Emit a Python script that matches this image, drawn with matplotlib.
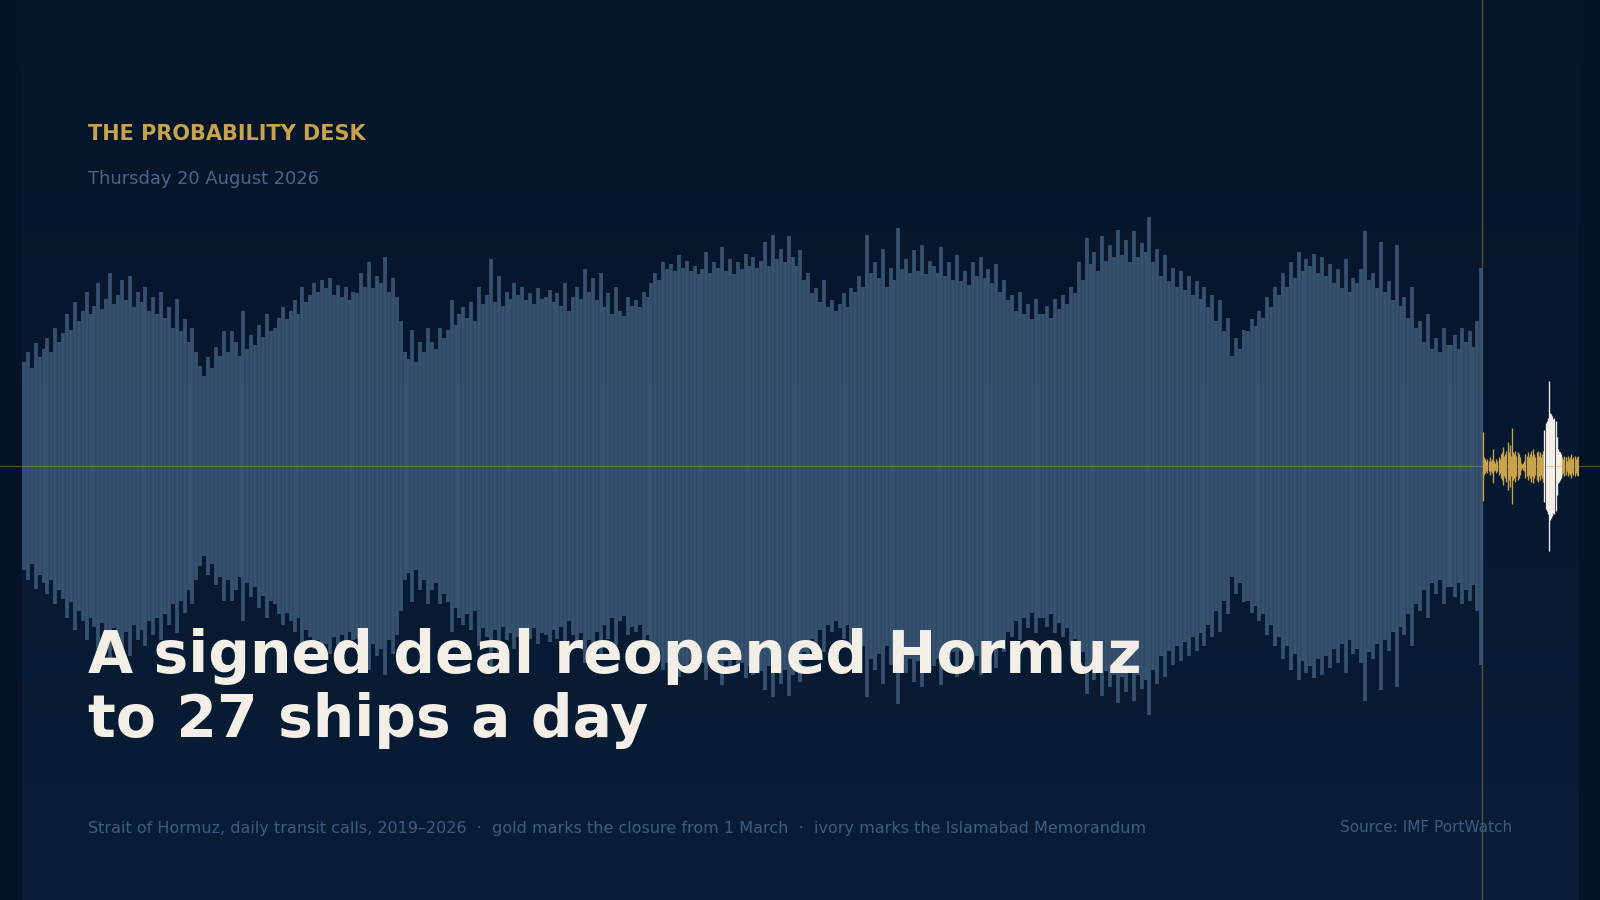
import numpy as np
import matplotlib
matplotlib.use('Agg')
import matplotlib.pyplot as plt
from matplotlib.colors import LinearSegmentedColormap

# weekly samples of daily transit calls (ships)
calls_2019 = [60, 66, 57, 71, 63, 68, 74, 66, 80, 72, 77, 88, 79, 95, 84, 90, 101, 88, 93, 106,
              91, 97, 112, 94, 99, 108, 96, 110, 92, 101, 95, 104, 90, 98, 88, 101, 86, 92, 80, 97,
              78, 85, 72, 80, 66, 58, 52, 63, 57, 69, 64, 78]
calls_2020 = [66, 78, 72, 64, 90, 68, 76, 70, 82, 75, 88, 78, 80, 86, 92, 85, 90, 96, 88, 104,
              95, 99, 106, 101, 108, 103, 109, 99, 105, 98, 104, 96, 101, 100, 112, 104, 118, 103, 110, 106,
              121, 101, 109, 98, 84, 66, 62, 79, 60, 72, 66, 80]
calls_2021 = [72, 68, 80, 74, 79, 96, 82, 88, 92, 86, 95, 84, 104, 94, 99, 120, 95, 110, 93, 101,
              97, 106, 99, 104, 96, 100, 94, 103, 97, 98, 102, 95, 100, 93, 106, 90, 98, 104, 97, 114,
              101, 109, 96, 112, 92, 100, 88, 104, 90, 87, 98, 93]
calls_2022 = [96, 92, 101, 98, 106, 112, 108, 118, 114, 117, 113, 122, 115, 119, 113, 116, 111, 114, 124, 112,
              118, 115, 127, 113, 120, 111, 118, 114, 123, 116, 121, 115, 119, 130, 116, 134, 120, 126, 118, 133,
              121, 116, 125, 108, 112, 100, 103, 95, 108, 92, 96, 90]
calls_2023 = [94, 100, 92, 103, 101, 110, 104, 134, 112, 118, 109, 126, 104, 115, 108, 138, 114, 120, 112, 125,
              113, 128, 111, 119, 116, 112, 127, 110, 118, 108, 122, 107, 113, 105, 118, 110, 121, 109, 114, 106,
              117, 101, 108, 96, 99, 90, 101, 88, 94, 85, 97, 88]
calls_2024 = [88, 93, 86, 97, 91, 99, 94, 104, 100, 118, 108, 132, 117, 124, 113, 133, 119, 128, 121, 137,
              122, 131, 118, 136, 121, 129, 124, 144, 118, 126, 110, 122, 107, 115, 104, 113, 102, 110, 99, 107,
              97, 104, 92, 99, 84, 96, 78, 86, 64, 74, 68, 79]
calls_2025 = [78, 85, 81, 90, 86, 98, 92, 104, 99, 112, 104, 118, 109, 124, 113, 120, 116, 123, 112, 121,
              110, 117, 106, 114, 103, 120, 101, 109, 106, 114, 136, 108, 112, 103, 130, 101, 107, 96, 128, 93,
              98, 86, 104, 80, 84, 72, 88, 68, 74, 66, 80, 70]
calls_2026 = [70, 76, 68, 80, 72, 78, 69, 84, 115]

# from the closure on, one sample every second day
calls_after = [20, 5, 4, 3, 4, 3, 5, 3, 4, 10,
               3, 2, 4, 3, 5, 4, 7, 8, 11, 6,
               7, 9, 14, 8, 12, 6, 22, 8, 7, 9,
               6, 8, 7, 5, 2, 1, 2, 3, 7, 6,
               8, 5, 7, 9, 6, 10, 7, 5, 8, 9,
               6, 8, 5, 7, 9,
               21, 25, 26, 28, 49, 31, 30, 29, 27, 28, 26, 17, 10, 9, 8, 7,
               5, 4, 6, 5, 3, 6, 4, 5, 7, 4, 5, 6, 4, 5, 6, 5]

years = [2019, 2020, 2021, 2022, 2023, 2024, 2025, 2026]
weekly = [calls_2019, calls_2020, calls_2021, calls_2022, calls_2023, calls_2024, calls_2025, calls_2026]

start = np.datetime64('2019-01-01')
closure = np.datetime64('2026-03-01')
memo_start = np.datetime64('2026-06-19')
memo_end = np.datetime64('2026-07-20')
last_day = np.datetime64('2026-08-20')

BG_TOP = '#051529'
BG_BOT = '#091d37'
BLUE = '#36526f'
GOLD = '#c9a24c'
IVORY = '#f3eee6'
MUTED = '#4a6686'
CAPTION = '#3f5c7e'

closure_off = (closure - start).astype(int)
end_off = (last_day - start).astype(int) + 1

# spread each year's samples evenly over that year (up to the closure for 2026)
xs, vs = [], []
for yr, vals in zip(years, weekly):
    y0 = (np.datetime64(f'{yr}-01-01') - start).astype(int)
    y1 = min((np.datetime64(f'{yr + 1}-01-01') - start).astype(int), closure_off)
    step = (y1 - y0) / len(vals)
    for k, v in enumerate(vals):
        xs.append(y0 + (k + 0.5) * step)
        vs.append(v)
xs = np.array(xs)
vs = np.array(vs)

xa, va, ca = [], [], []
for j, v in enumerate(calls_after):
    d = closure + np.timedelta64(2 * j, 'D')
    xa.append(closure_off + 2 * j + 1)
    va.append(v)
    ca.append(IVORY if memo_start <= d <= memo_end else GOLD)
xa = np.array(xa)
va = np.array(va)

fig = plt.figure(figsize=(16, 9), dpi=100)
fig.patch.set_facecolor('#041327')

ax = fig.add_axes([22 / 1600, 0, 1557 / 1600, 1])
ylo, yhi = -251.4, 270
ax.set_xlim(0, end_off)
ax.set_ylim(ylo, yhi)
ax.axis('off')

# background gradient
grad = np.linspace(0, 1, 256).reshape(-1, 1)
cmap = LinearSegmentedColormap.from_list('bg', [BG_BOT, BG_TOP])
ax.imshow(grad, extent=[0, end_off, ylo, yhi], origin='lower', aspect='auto', cmap=cmap, zorder=0)

ax.axvline(closure_off, color=GOLD, alpha=0.4, lw=1.0, zorder=1)

ax.vlines(xs, -vs, vs, colors=BLUE, lw=2.7, zorder=2)
ax.vlines(xa, -va, va, colors=ca, lw=0.95, zorder=3)

ax.axhline(0, xmin=-0.015, xmax=1.015, clip_on=False, color=GOLD, alpha=0.45, lw=0.8, zorder=5)

# texts
fig.text(88 / 1600, 1 - 140 / 900, 'THE PROBABILITY DESK', color=GOLD, fontsize=15,
         fontweight='bold', va='baseline', ha='left')
fig.text(88 / 1600, 1 - 184 / 900, 'Thursday 20 August 2026', color=MUTED, fontsize=12.9,
         va='baseline', ha='left')
fig.text(88 / 1600, 1 - 673 / 900, 'A signed deal reopened Hormuz', color=IVORY, fontsize=42,
         fontweight='bold', va='baseline', ha='left', zorder=10)
fig.text(88 / 1600, 1 - 737 / 900, 'to 27 ships a day', color=IVORY, fontsize=42,
         fontweight='bold', va='baseline', ha='left', zorder=10)
fig.text(88 / 1600, 1 - 833 / 900,
         'Strait of Hormuz, daily transit calls, 2019\u20132026  \u00b7  gold marks the closure from 1 March'
         '  \u00b7  ivory marks the Islamabad Memorandum',
         color=CAPTION, fontsize=11.55, va='baseline', ha='left')
fig.text(1512 / 1600, 1 - 832 / 900, 'Source: IMF PortWatch', color=CAPTION, fontsize=11.0,
         va='baseline', ha='right')

fig.savefig('out.png', dpi=100, facecolor=fig.get_facecolor())
